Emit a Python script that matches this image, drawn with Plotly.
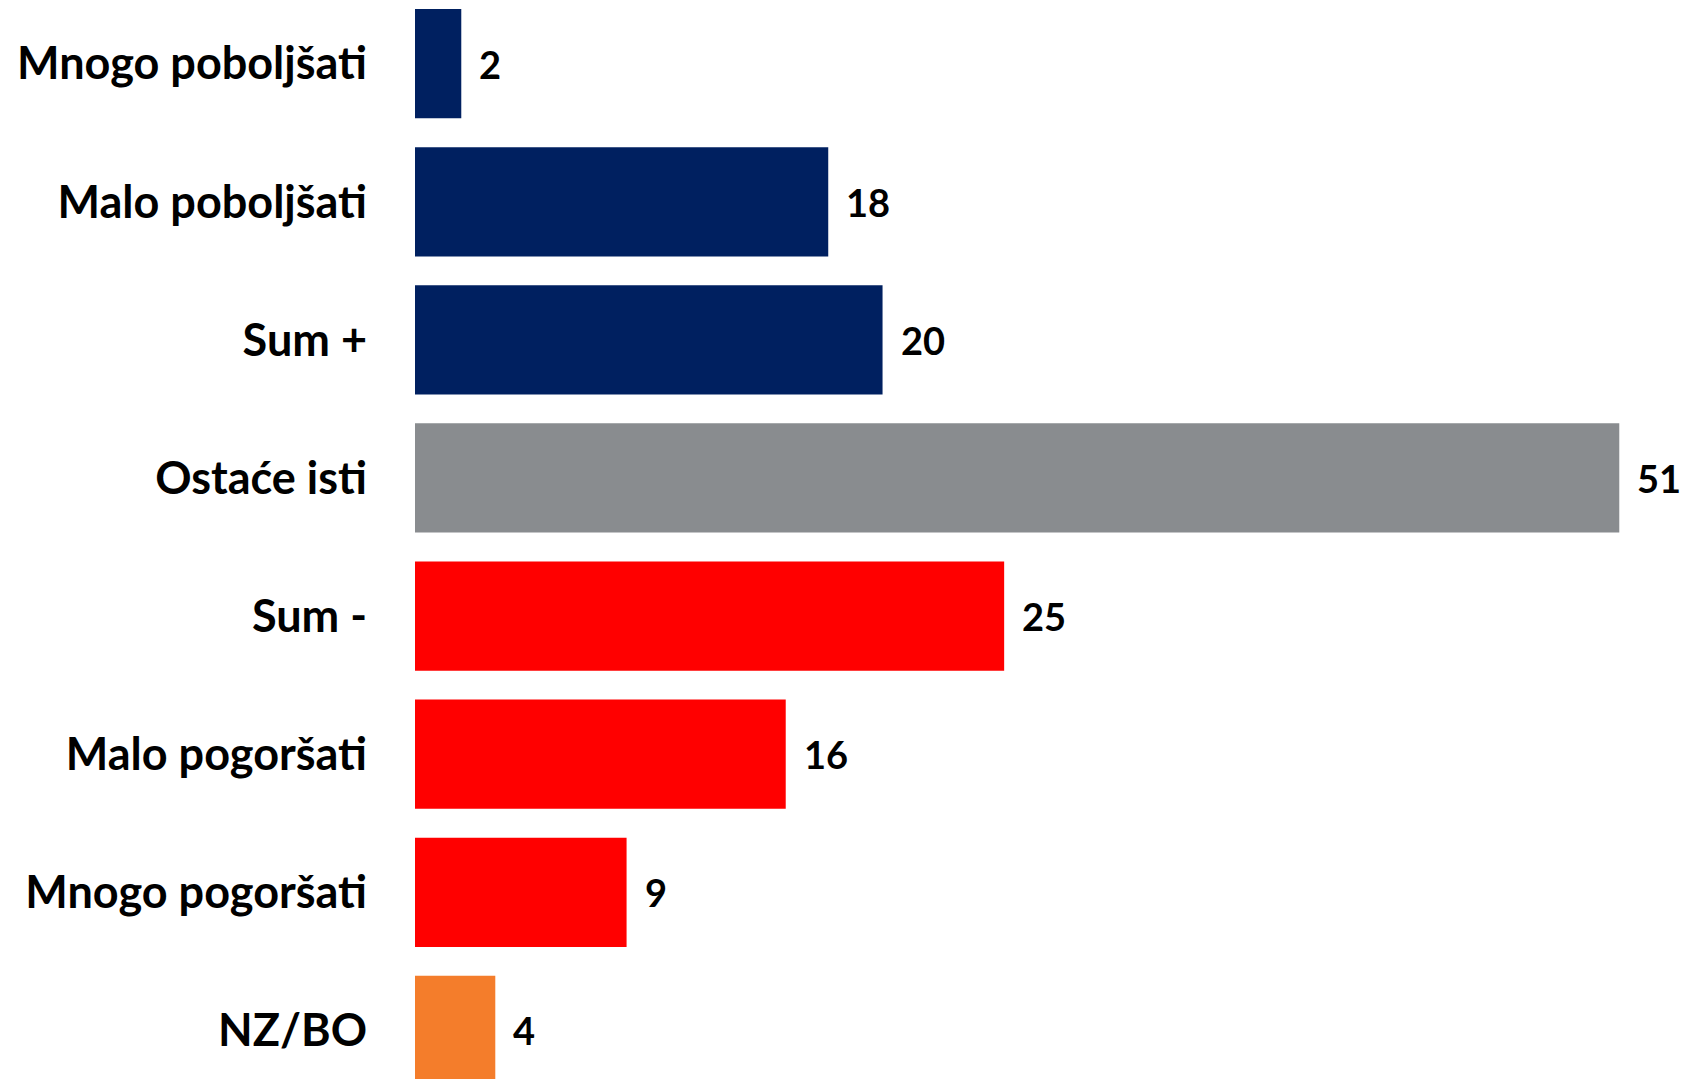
import plotly.graph_objects as go

categories = ["Mnogo poboljšati", "Malo poboljšati", "Sum +", "Ostaće isti",
              "Sum -", "Malo pogoršati", "Mnogo pogoršati", "NZ/BO"]
# bar lengths (labels show rounded figures)
values = [1.96, 17.5, 19.8, 51.0, 24.95, 15.7, 8.96, 3.4]
value_labels = ["2", "18", "20", "51", "25", "16", "9", "4"]
colors = ["#002060", "#002060", "#002060", "#898C8F",
          "#FF0000", "#FF0000", "#FF0000", "#F47D2B"]

fig = go.Figure()
fig.add_trace(go.Bar(
    x=values, y=categories, orientation="h",
    marker=dict(color=colors, line=dict(width=0)),
    hoverinfo="skip",
))

for c, v, t in zip(categories, values, value_labels):
    fig.add_annotation(
        x=v, y=c, text=t, showarrow=False,
        xanchor="left", yanchor="middle", xshift=16,
        font=dict(family="Lato", size=38, color="#000000", weight="bold"),
    )

fig.update_layout(
    width=1680, height=1071,
    margin=dict(l=407, r=0, t=0, b=0),
    paper_bgcolor="white", plot_bgcolor="white",
    bargap=0.209,
    showlegend=False,
    xaxis=dict(range=[0, 53.91], visible=False, fixedrange=True),
    yaxis=dict(
        type="category",
        range=[7.352, -0.403],
        showgrid=False, zeroline=False, showline=False,
        ticks="", ticklabelstandoff=47,
        tickfont=dict(family="Lato", size=45, color="#000000", weight="bold"),
    ),
)

fig.write_html("out.html")
